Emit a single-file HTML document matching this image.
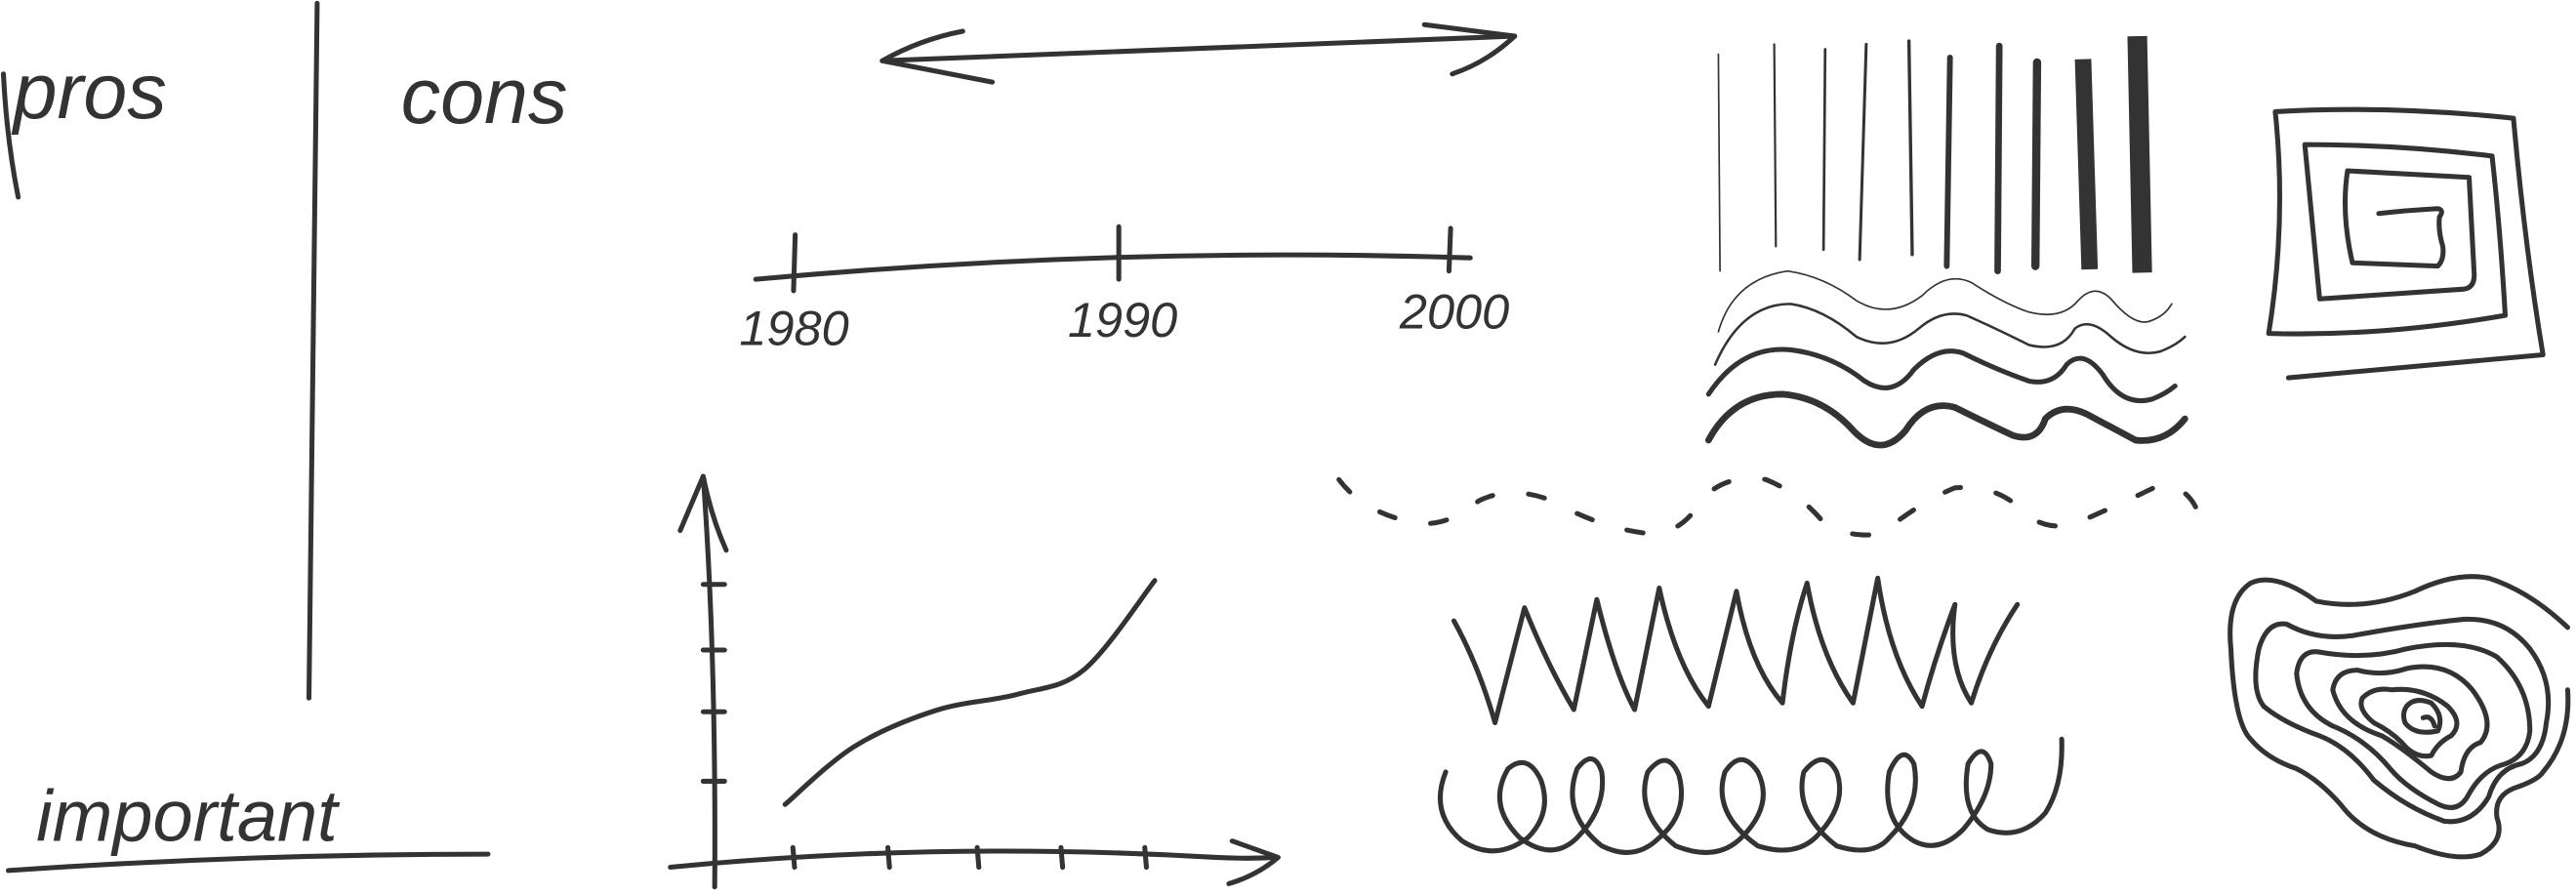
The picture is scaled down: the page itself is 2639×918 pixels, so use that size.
<!DOCTYPE html>
<html><head><meta charset="utf-8"><style>
html,body{margin:0;padding:0;background:#fff;}
svg{display:block;}
text{font-family:"Liberation Sans",sans-serif;fill:#333;}
</style></head><body>
<svg width="2639" height="918" viewBox="0 0 1568 545.5" xmlns="http://www.w3.org/2000/svg" fill="none" stroke="#333" stroke-width="3" stroke-linecap="round" stroke-linejoin="round">
<g>
<text x="8" y="72" font-size="48" stroke="none" font-style="italic">pros</text>
<text x="244" y="75" font-size="48" stroke="none" font-style="italic">cons</text>
<path d="M193,2 L188,425"/>
<path d="M2,45 Q4,85 11,120"/>
</g>
<g>
<path d="M537,37 L922,22"/>
<path d="M586,19 Q560,24 537,37 L604,50"/>
<path d="M867,15 L922,22 Q905,38 884,45"/>
</g>
<g>
<path d="M460,170 Q680,150 895,157"/>
<path d="M484,143 L483,177 M681,138 L681,170 M883,139 L882,165"/>
<text x="450" y="210" font-size="30" stroke="none" font-style="italic">1980</text>
<text x="650" y="205" font-size="30" stroke="none" font-style="italic">1990</text>
<text x="852" y="200" font-size="30" stroke="none" font-style="italic">2000</text>
</g>
<g>
<path d="M1046,33 L1047,165" stroke-width="1"/>
<path d="M1080,27 L1081,150" stroke-width="1.3"/>
<path d="M1111,30 L1110,152" stroke-width="1.6"/>
<path d="M1136,27 L1132,158" stroke-width="1.8"/>
<path d="M1162,25 L1164,155" stroke-width="2"/>
<path d="M1187,35 L1185,162" stroke-width="3.5"/>
<path d="M1217,28 L1216,165" stroke-width="4"/>
<path d="M1240,38 L1239,162" stroke-width="5"/>
<path d="M1268,36 L1272,164" stroke-width="10" stroke-linecap="butt"/>
<path d="M1301,22 L1304,166" stroke-width="12" stroke-linecap="butt"/>
</g>
<g>
<path stroke-width="1" d="M1046,202 Q1055,170 1088,165 Q1110,168 1130,183 Q1150,195 1170,180 Q1185,165 1200,172 Q1220,185 1235,190 Q1255,195 1265,183 Q1275,172 1285,182 Q1300,200 1310,195 Q1318,192 1322,185"/>
<path stroke-width="1.5" d="M1044,222 Q1060,185 1090,185 Q1110,188 1130,205 Q1150,215 1168,200 Q1182,188 1197,192 Q1215,200 1235,210 Q1255,215 1263,200 Q1272,193 1285,205 Q1300,218 1315,214 Q1325,210 1330,205"/>
<path stroke-width="3" d="M1040,240 Q1060,210 1090,213 Q1115,216 1135,232 Q1152,243 1165,225 Q1180,210 1195,215 Q1215,225 1235,232 Q1250,235 1258,222 Q1268,212 1280,228 Q1292,248 1310,243 Q1318,240 1324,235"/>
<path stroke-width="4" d="M1040,268 Q1055,240 1085,240 Q1110,242 1128,262 Q1145,280 1160,262 Q1172,243 1190,248 Q1210,258 1225,265 Q1240,270 1245,255 Q1255,245 1270,252 Q1285,260 1300,268 Q1318,270 1330,255"/>
</g>
<g>
<path d="M1393,230 L1548,216 Q1537,150 1530,72 Q1455,64 1385,68 Q1392,135 1381,203 Q1450,205 1525,192 Q1522,140 1517,95 Q1460,88 1403,88 L1412,182 L1500,176 Q1507,175 1506,165 L1503,108 L1429,104 Q1425,130 1432,160 L1484,162 Q1488,158 1487,150 Q1484,140 1485,132 Q1488,128 1484,127 Q1465,128 1448,130"/>
</g>
<path stroke-dasharray="10,22" d="M815,292 Q830,312 860,318 Q880,322 900,305 Q920,295 945,305 Q975,322 1005,325 Q1025,324 1035,305 Q1050,288 1075,292 Q1095,300 1110,318 Q1125,328 1145,325 Q1170,305 1190,297 Q1215,295 1230,310 Q1245,325 1265,318 Q1295,305 1315,295 Q1332,296 1338,312"/>
<path d="M885,378 Q900,405 910,440 L928,370 Q942,405 958,432 L972,365 Q983,410 995,432 L1010,358 Q1020,405 1040,430 L1057,360 Q1065,405 1085,428 Q1090,385 1100,355 Q1108,400 1128,428 L1143,352 Q1150,400 1170,430 Q1178,400 1190,368 Q1185,405 1200,428 Q1210,395 1228,368"/>
<path d="M880,470 Q870,495 890,512 Q910,525 930,510 Q945,495 938,475 Q930,458 918,468 Q905,490 925,510 Q945,525 960,510 Q978,492 975,470 Q970,455 960,468 Q950,495 975,515 Q995,525 1010,510 Q1028,495 1022,472 Q1015,455 1003,470 Q995,495 1020,515 Q1045,525 1060,510 Q1080,490 1070,470 Q1060,455 1050,470 Q1042,495 1070,515 Q1092,522 1105,510 Q1125,490 1118,470 Q1110,455 1098,470 Q1092,495 1118,515 Q1140,522 1150,510 Q1170,490 1165,465 Q1158,452 1150,470 Q1145,500 1165,512 Q1180,520 1195,505 Q1212,485 1212,465 Q1207,450 1198,465 Q1193,495 1210,505 Q1230,512 1245,495 Q1256,478 1255,450"/>
<g>
<path d="M1563,382 Q1540,360 1515,352 Q1495,348 1470,360 Q1440,372 1410,366 Q1385,348 1370,355 Q1355,365 1358,395 Q1360,440 1370,450 Q1380,462 1398,468 Q1412,475 1425,490 Q1440,510 1470,515 Q1495,525 1510,520 Q1525,512 1520,498 Q1518,485 1530,480 Q1545,475 1548,470 Q1565,450 1563,420"/>
<path d="M1375,395 Q1380,378 1392,380 Q1410,390 1432,387 Q1470,380 1500,377 Q1525,376 1540,395 Q1555,415 1550,440 Q1548,460 1535,465 Q1520,468 1515,485 Q1505,502 1488,500 Q1465,492 1445,475 Q1430,455 1412,448 Q1390,440 1378,430 Q1370,420 1375,395"/>
<path d="M1398,410 Q1400,395 1412,397 Q1440,402 1465,395 Q1500,388 1520,400 Q1540,418 1540,445 Q1538,462 1522,466 Q1510,470 1502,485 Q1496,495 1485,490 Q1465,480 1455,468 Q1440,450 1420,442 Q1400,432 1398,410"/>
<path d="M1420,420 Q1422,408 1435,408 Q1450,412 1465,407 Q1490,402 1505,420 Q1520,440 1510,452 Q1500,455 1498,470 Q1492,478 1480,470 Q1462,455 1450,448 Q1425,440 1420,420"/>
<path d="M1438,425 Q1445,418 1456,420 Q1475,418 1490,430 Q1500,440 1492,448 Q1484,452 1480,460 Q1470,462 1462,452 Q1455,445 1445,440 Q1435,432 1438,425"/>
<path d="M1465,430 Q1470,424 1480,428 Q1488,436 1484,445 Q1470,448 1464,440 Q1462,434 1465,430 M1475,437 Q1480,435 1482,442"/>
</g>
<g>
<path d="M435,540 Q436,400 428,290"/>
<path d="M414,323 L428,290 Q433,315 442,335"/>
<path d="M408,528 Q570,512 740,522 Q760,523 775,522"/>
<path d="M750,512 L778,522 Q765,533 748,538"/>
<g id="ticks"></g>
<path id="curve" d=""/>
</g>
<g>
<text x="22" y="512" font-size="44" stroke="none" font-style="italic">important</text>
<path d="M5,530 Q150,520 297,520"/>
</g>
</svg>
<script>
const curveX = [1.26, 2.5, 3.97, 5.44, 6.62, 7.88];
const curveY = [1.5, 3.0, 3.94, 4.36, 5.0, 7.3];
const xTicks = [1.4, 3.1, 4.7, 6.2, 7.7];
const yTicks = [2.1, 3.9, 5.5, 7.2];
function sx(v){return 435 + v*34;}
function sy(v){return 525 - v*23.5;}
const NS="http://www.w3.org/2000/svg";
const tg=document.getElementById('ticks');
xTicks.forEach(function(t){
  const p=document.createElementNS(NS,'path');
  const x=sx(t);
  p.setAttribute('d','M'+x+',516 L'+(x+1)+',528');
  
  
  tg.appendChild(p);
});
yTicks.forEach(function(t){
  const p=document.createElementNS(NS,'path');
  const y=sy(t);
  p.setAttribute('d','M428,'+y+' L441,'+y);
  
  
  tg.appendChild(p);
});
const pts=curveX.map(function(v,i){return [sx(v),sy(curveY[i])];});
let d='M'+pts[0][0]+','+pts[0][1];
for(let i=0;i<pts.length-1;i++){
  const p0=pts[Math.max(0,i-1)],p1=pts[i],p2=pts[i+1],p3=pts[Math.min(pts.length-1,i+2)];
  const c1=[p1[0]+(p2[0]-p0[0])/6,p1[1]+(p2[1]-p0[1])/6];
  const c2=[p2[0]-(p3[0]-p1[0])/6,p2[1]-(p3[1]-p1[1])/6];
  d+=' C'+c1[0]+','+c1[1]+' '+c2[0]+','+c2[1]+' '+p2[0]+','+p2[1];
}
document.getElementById('curve').setAttribute('d',d);
</script>
</body></html>
